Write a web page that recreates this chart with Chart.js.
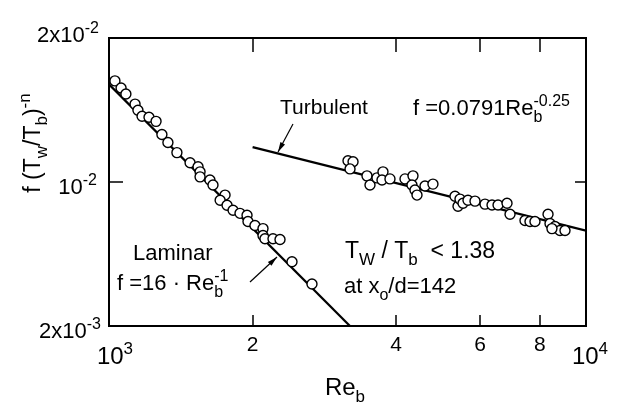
<!DOCTYPE html>
<html>
<head>
<meta charset="utf-8">
<script src="https://cdn.jsdelivr.net/npm/chart.js@4.4.0/dist/chart.umd.min.js"></script>
<style>
  html, body { margin: 0; padding: 0; background: #fff; }
</style>
</head>
<body>
<canvas id="chart" width="619" height="406"></canvas>
<script>
// measured points, laminar run
const laminarRe = [1029, 1060, 1085, 1134, 1150, 1173, 1213, 1255, 1291, 1329, 1388, 1479, 1537, 1552, 1552, 1628,
  1652, 1751, 1710, 1768, 1820, 1882, 1947, 1956, 2023, 2103, 2103, 2123, 2207, 2283, 2419, 2664];
const laminarF = [0.01627, 0.01572, 0.01527, 0.01455, 0.01413, 0.01372, 0.01366, 0.01339, 0.01257, 0.01209, 0.01152,
  0.01097, 0.01076, 0.01050, 0.01025, 0.01010, 0.00986, 0.00939, 0.00916, 0.00894, 0.00873, 0.00860, 0.00852,
  0.00827, 0.00811, 0.00799, 0.00773, 0.00761, 0.00761, 0.00758, 0.00681, 0.00612];

// measured points, turbulent run
const turbulentRe = [3170, 3248, 3201, 3474, 3525, 3646, 3753, 3735, 3882, 4174, 4338, 4317, 4380, 4423, 4597, 4777,
  5313, 5391, 5443, 5523, 5657, 5852, 6141, 6353, 6540, 6830, 6930, 7449, 7631, 7817, 8325, 8405, 8610, 8820, 9036, 8484];
const turbulentF = [0.01108, 0.01102, 0.01065, 0.01030, 0.00986, 0.01020, 0.01050, 0.01010, 0.01015, 0.01015, 0.01030,
  0.00986, 0.00962, 0.00939, 0.00981, 0.00990, 0.00934, 0.00890, 0.00921, 0.00903, 0.00916, 0.00912, 0.00899,
  0.00895, 0.00895, 0.00903, 0.00856, 0.00831, 0.00827, 0.00827, 0.00856, 0.00819, 0.00807, 0.00792, 0.00792, 0.00799];

// correlation lines (end points)
const laminarFitRe = [1000, 3200];
const laminarFitF = [0.016, 0.005];
const turbulentFitRe = [2000, 10000];
const turbulentFitF = [0.01183, 0.00791];

// ticks
const xTicks = [1000, 2000, 4000, 6000, 8000, 10000];
const xTickBase = ['10', '2', '4', '6', '8', '10'];
const xTickSup = ['3', '', '', '', '', '4'];
const yTicks = [0.005, 0.01, 0.02];
const yTickBase = ['2x10', '10', '2x10'];
const yTickSup = ['-3', '-2', '-2'];

const FONT = '"Liberation Sans", Arial, sans-serif';

function toPoints(xs, ys) {
  return xs.map((x, i) => ({ x: x, y: ys[i] }));
}

// parts: [text, mode(0 normal, 1 sup, 2 sub), advance]
function richText(ctx, parts, x, y, align, size) {
  let w = 0;
  parts.forEach(p => {
    ctx.font = (p[1] ? Math.round(size * 0.72) : size) + 'px ' + FONT;
    if (p[2] !== false) w += ctx.measureText(p[0]).width;
  });
  let cx = align === 'center' ? x - w / 2 : align === 'right' ? x - w : x;
  ctx.textAlign = 'left';
  ctx.textBaseline = 'alphabetic';
  parts.forEach(p => {
    ctx.font = (p[1] ? Math.round(size * 0.72) : size) + 'px ' + FONT;
    const dy = p[1] === 1 ? -size * 0.42 : p[1] === 2 ? size * 0.3 : 0;
    ctx.fillText(p[0], cx, y + dy);
    if (p[2] !== false) cx += ctx.measureText(p[0]).width;
  });
}

function arrow(ctx, x1, y1, x2, y2) {
  ctx.beginPath();
  ctx.moveTo(x1, y1);
  ctx.lineTo(x2, y2);
  ctx.stroke();
  const a = Math.atan2(y2 - y1, x2 - x1);
  const L = 10, W = 2.6;
  ctx.beginPath();
  ctx.moveTo(x2, y2);
  ctx.lineTo(x2 - L * Math.cos(a) + W * Math.sin(a), y2 - L * Math.sin(a) - W * Math.cos(a));
  ctx.lineTo(x2 - L * Math.cos(a) - W * Math.sin(a), y2 - L * Math.sin(a) + W * Math.cos(a));
  ctx.closePath();
  ctx.fill();
}

const decor = {
  id: 'decor',
  afterDraw(chart) {
    const ctx = chart.ctx;
    const a = chart.chartArea;
    const xs = chart.scales.x, ys = chart.scales.y;
    ctx.save();
    ctx.strokeStyle = '#000';
    ctx.fillStyle = '#000';

    // frame
    ctx.lineWidth = 2;
    ctx.strokeRect(a.left, a.top, a.right - a.left, a.bottom - a.top);

    // inward ticks
    ctx.lineWidth = 1.5;
    xTicks.slice(1, -1).forEach(v => {
      const px = Math.round(xs.getPixelForValue(v));
      ctx.beginPath();
      ctx.moveTo(px, a.bottom); ctx.lineTo(px, a.bottom - 11);
      ctx.moveTo(px, a.top); ctx.lineTo(px, a.top + 14);
      ctx.stroke();
    });
    const py10 = Math.round(ys.getPixelForValue(0.01));
    ctx.beginPath();
    ctx.moveTo(a.left, py10); ctx.lineTo(a.left + 14, py10);
    ctx.moveTo(a.right, py10); ctx.lineTo(a.right - 11, py10);
    ctx.stroke();

    // x tick labels
    xTicks.forEach((v, i) => {
      const px = xs.getPixelForValue(v);
      if (xTickSup[i]) {
        const off = i === 0 ? 6 : 4;
        richText(ctx, [[xTickBase[i], 0], [xTickSup[i], 1]], px + off, a.bottom + 38, 'center', 24);
      } else {
        richText(ctx, [[xTickBase[i], 0]], px, a.bottom + 25, 'center', 21);
      }
    });

    // y tick labels
    yTicks.forEach((v, i) => {
      const py = ys.getPixelForValue(v);
      const dx = i === 1 ? 12 : i === 2 ? 10 : 8;
      const dy = i === 2 ? 4 : 12;
      richText(ctx, [[yTickBase[i], 0], [yTickSup[i], 1]], a.left - dx, py + dy, 'right', 22);
    });

    // axis titles
    richText(ctx, [['Re', 0], ['b', 2]], 345, 395, 'center', 24);
    ctx.save();
    ctx.translate(40, 143);
    ctx.rotate(-Math.PI / 2);
    richText(ctx, [['f (T', 0], ['w', 2], ['/T', 0], ['b', 2], [')', 0], ['-n', 1]], 0, 0, 'center', 23);
    ctx.restore();

    // annotations
    richText(ctx, [['Turbulent', 0]], 280, 114, 'left', 21);
    richText(ctx, [['f =0.0791Re', 0], ['b', 2, false], ['-0.25', 1]], 413, 115, 'left', 22);
    richText(ctx, [['Laminar', 0]], 133, 260, 'left', 22);
    richText(ctx, [['f =16 \u00b7 Re', 0], ['b', 2, false], ['-1', 1]], 117, 290, 'left', 22);
    richText(ctx, [['T', 0], ['W', 2], [' / T', 0], ['b', 2], ['  < 1.38', 0]], 345, 258, 'left', 23);
    richText(ctx, [['at x', 0], ['o', 2], ['/d=142', 0]], 344, 293, 'left', 22);

    ctx.lineWidth = 1.2;
    arrow(ctx, 293, 124, 278, 152);
    arrow(ctx, 250, 282, 277, 257);
    ctx.restore();
  }
};

new Chart(document.getElementById('chart'), {
  type: 'scatter',
  data: {
    datasets: [
      {
        label: 'Laminar data',
        data: toPoints(laminarRe, laminarF),
        pointRadius: 5,
        pointBorderWidth: 1.4,
        pointBorderColor: '#000',
        pointBackgroundColor: '#fff',
        order: 1
      },
      {
        label: 'Turbulent data',
        data: toPoints(turbulentRe, turbulentF),
        pointRadius: 5,
        pointBorderWidth: 1.4,
        pointBorderColor: '#000',
        pointBackgroundColor: '#fff',
        order: 1
      },
      {
        label: 'Laminar f = 16/Re',
        data: toPoints(laminarFitRe, laminarFitF),
        showLine: true,
        borderColor: '#000',
        borderWidth: 2.2,
        pointRadius: 0,
        order: 2
      },
      {
        label: 'Turbulent f = 0.0791 Re^-0.25',
        data: toPoints(turbulentFitRe, turbulentFitF),
        showLine: true,
        borderColor: '#000',
        borderWidth: 2.2,
        pointRadius: 0,
        order: 2
      }
    ]
  },
  options: {
    responsive: false,
    animation: false,
    layout: { padding: { left: 109, right: 33, top: 38, bottom: 80 } },
    scales: {
      x: { type: 'logarithmic', min: 1000, max: 10000, display: false },
      y: { type: 'logarithmic', min: 0.005, max: 0.02, display: false }
    },
    plugins: {
      legend: { display: false },
      tooltip: { enabled: false }
    }
  },
  plugins: [decor]
});
</script>
</body>
</html>
